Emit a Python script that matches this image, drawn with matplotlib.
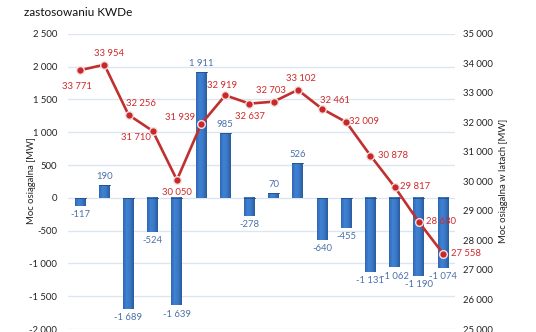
import matplotlib.pyplot as plt
import matplotlib.ticker as mticker
import numpy as np

plt.rcParams['font.family'] = ['Lato', 'DejaVu Sans']

# yearly change of available capacity (bars, left axis) and total available capacity (line, right axis)
change_mw = [-117, 190, -1689, -524, -1639, 1911, 985, -278, 70, 526,
             -640, -455, -1131, -1062, -1190, -1074]
capacity_mw = [33771, 33954, 32256, 31710, 30050, 31939, 32919, 32637, 32703,
               33102, 32461, 32009, 30878, 29817, 28630, 27558]

# label offsets (points) for the line values
line_offsets = [(-2, -11.5), (3, 8), (9, 8), (-12, -5), (0, -9), (-15, 5),
                (-2, 7), (0, -9), (-2, 8), (2, 8), (9, 6), (13, 0.5),
                (16, 0), (15, 0), (16, 0), (16.5, 0)]


def fmt(v):
    return f"{v:,.0f}".replace(",", " ")


fig = plt.figure(figsize=(5.36, 3.32), dpi=100)
ax = fig.add_axes([0.127, 0.009, 0.722, 0.889])
ax2 = ax.twinx()

x = np.arange(len(change_mw))
bars = ax.bar(x, change_mw, width=0.45, color='#3670bd', zorder=2)

# horizontal gradient inside each bar
grad = np.linspace(0, 1, 64).reshape(1, -1)
cmap = plt.matplotlib.colors.LinearSegmentedColormap.from_list(
    'bar', ['#2f68b4', '#4182d3', '#3a78c6', '#2a5a9c'])
for b in bars:
    x0, y0 = b.get_x(), b.get_y()
    w, h = b.get_width(), b.get_height()
    ax.imshow(grad, extent=[x0, x0 + w, y0, y0 + h], cmap=cmap,
              aspect='auto', zorder=2.1, interpolation='bicubic')
    edge = y0 + h if h > 0 else y0
    ax.plot([x0, x0 + w], [edge, edge], color='#244f8a', lw=0.6, zorder=2.2)

for xi, v in zip(x, change_mw):
    off = 3 if v > 0 else -3
    ax.annotate(fmt(v), (xi, v), xytext=(0, off), textcoords='offset points',
                ha='center', va='bottom' if v > 0 else 'top',
                fontsize=6.8, color='#4a72a8', zorder=5)

ax.set_xlim(-0.5, len(change_mw) - 0.5)
ax.set_ylim(-2000, 2500)
ax.yaxis.set_major_locator(mticker.MultipleLocator(500))
ax.yaxis.set_major_formatter(mticker.FuncFormatter(lambda v, p: fmt(v)))
ax.grid(axis='y', color='#dce6f2', lw=1, zorder=0)
ax.set_axisbelow(True)
ax.set_xticks([])

ax2.plot(x, capacity_mw, color='#c0302e', lw=1.9, marker='o', ms=5.5,
         markerfacecolor='#c8282a', markeredgecolor='#f4e0df', mew=1.0, zorder=4)
for xi, v, (dx, dy) in zip(x, capacity_mw, line_offsets):
    ax2.annotate(fmt(v), (xi, v), xytext=(dx, dy), textcoords='offset points',
                 ha='center', va='center', fontsize=6.8, color='#d02a2a')
ax2.set_ylim(25000, 35000)
ax2.yaxis.set_major_locator(mticker.MultipleLocator(1000))
ax2.yaxis.set_major_formatter(mticker.FuncFormatter(lambda v, p: fmt(v)))

for a in (ax, ax2):
    for s in a.spines.values():
        s.set_visible(False)
ax.tick_params(axis='y', length=0, labelsize=6.8, colors='#222222', pad=8)
ax2.tick_params(axis='y', length=0, labelsize=6.8, colors='#222222', pad=6)
ax2.patch.set_visible(False)

# axis titles
fig.text(32 / 536, 1 - 181 / 332, 'Moc osiągalna [MW]', fontsize=6.8,
         color='#222222', rotation=90, ha='center', va='center')
fig.text(503 / 536, 1 - 181 / 332, 'Moc osiągalna w latach [MW]', fontsize=6.8,
         color='#222222', rotation=90, ha='center', va='center')

fig.text(0.045, 0.962, 'zastosowaniu KWDe', fontsize=8.5, color='#111111',
         ha='left', va='center')

fig.savefig('out.png', dpi=100)
